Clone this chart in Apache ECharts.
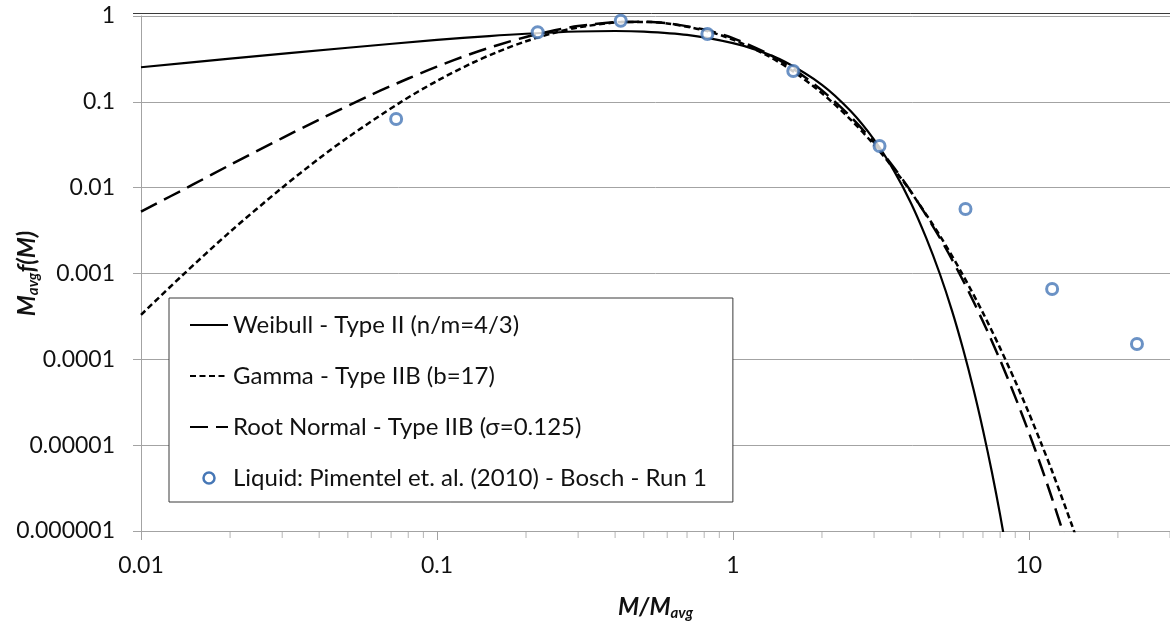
<!DOCTYPE html>
<html>
<head>
<meta charset="utf-8">
<script src="https://cdn.jsdelivr.net/npm/echarts@6/dist/echarts.min.js"></script>
<style>
html,body{margin:0;padding:0;background:#fff;}
#chart{width:1170px;height:625px;}
</style>
</head>
<body>
<div id="chart"></div>
<script>
// ---- data ----
const xTickLabels = ['0.01', '0.1', '1', '10'];
const yTickLabels = ['0.000001', '0.00001', '0.0001', '0.001', '0.01', '0.1', '1'];
const xMinorTicks = [0.02,0.03,0.04,0.05,0.06,0.07,0.08,0.09,
                     0.2,0.3,0.4,0.5,0.6,0.7,0.8,0.9,
                     2,3,4,5,6,7,8,9,20,30];

const seriesNames = [
  'Weibull - Type II (n/m=4/3)',
  'Gamma - Type IIB (b=17)',
  'Root Normal - Type IIB (σ=0.125)',
  'Liquid: Pimentel et. al. (2010) - Bosch - Run 1'
];

const weibullX = [0.01,0.02,0.05,0.1,0.15,0.2,0.3,0.4,0.5,0.7,1,1.2,1.5,2,2.5,3,3.5,4,4.5,5,5.5,6,6.5,7,7.5,8,8.5];
const weibullY = [0.253,0.318,0.427,0.526,0.584,0.621,0.660,0.669,0.658,0.602,0.484,0.403,0.293,0.158,0.078,0.0362,0.0158,0.0066,0.0026,0.00100,0.00037,0.000131,0.000045,0.000015,0.0000049,0.00000154,0.00000047];

const gammaX = [0.01,0.0137,0.02,0.03,0.04,0.05,0.075,0.1,0.13,0.16,0.2,0.25,0.3,0.4,0.5,0.6,0.8,1,1.3,1.6,2,2.5,3,3.5,4,5,6,7,8,9,10,11,12,14,15];
const gammaY = [0.00033,0.00093,0.00306,0.0100,0.0219,0.0385,0.098,0.175,0.278,0.381,0.508,0.639,0.736,0.839,0.854,0.819,0.681,0.531,0.350,0.226,0.126,0.0621,0.0316,0.0165,0.00887,0.00278,0.000947,0.000348,0.000135,0.0000555,0.0000238,0.0000106,0.00000493,0.00000116,0.00000058];

const rootX = [0.01,0.015,0.02,0.03,0.04,0.06,0.08,0.1,0.13,0.16,0.2,0.25,0.3,0.4,0.5,0.6,0.8,1,1.3,1.6,2,2.5,3,3.5,4,5,6,7,8,9,10,11,12,13,14];
const rootY = [0.00525,0.0109,0.0184,0.0378,0.062,0.121,0.187,0.257,0.361,0.457,0.570,0.682,0.763,0.848,0.858,0.823,0.695,0.552,0.370,0.242,0.136,0.0671,0.0336,0.0172,0.0090,0.00262,0.000824,0.000276,0.000098,0.0000363,0.0000141,0.00000568,0.00000236,0.00000101,0.00000045];

const liquidX = [0.0728,0.219,0.418,0.82,1.60,3.13,6.11,11.99,23.2];
const liquidY = [0.0631,0.646,0.882,0.617,0.229,0.0306,0.00564,0.00066,0.000151];

// ---- build chart ----
const zip = (xs, ys) => xs.map((x, i) => [x, ys[i]]);
const FONT = 'Lato';
const GRIDC = '#a3a3a3';
const BLUE = '#4677b6';
const X_MIN = 0.01, X_MAX = 30, Y_MIN = 0.000001, Y_MAX = 1;

function logLabel(labels, base) {
  return function (v) {
    const l = Math.log10(v);
    const e = Math.round(l);
    if (Math.abs(l - e) > 1e-6) return '';
    const idx = e - base;
    return labels[idx] !== undefined ? labels[idx] : '';
  };
}

const lineLegendItem = name => ({name: name, itemStyle: {opacity: 0}});
const titleRich = {
  m: {fontFamily: FONT, fontSize: 24, fontWeight: 'bold', fontStyle: 'italic', color: '#111', lineHeight: 28},
  s: {fontFamily: FONT, fontSize: 15, fontWeight: 'bold', fontStyle: 'italic', color: '#111', lineHeight: 14, verticalAlign: 'bottom'}
};

const chart = echarts.init(document.getElementById('chart'), null, {renderer: 'canvas'});
chart.setOption({
  animation: false,
  backgroundColor: '#fff',
  textStyle: {fontFamily: FONT},
  grid: {left: 141, right: 0, top: 16, bottom: 94, containLabel: false, outerBoundsMode: 'none'},
  legend: {
    data: [
      lineLegendItem(seriesNames[0]),
      lineLegendItem(seriesNames[1]),
      lineLegendItem(seriesNames[2]),
      {name: seriesNames[3], itemStyle: {color: '#fff', borderColor: BLUE, borderWidth: 2.5, opacity: 1}}
    ],
    orient: 'vertical',
    left: 169, top: 298,
    padding: [14, 26, 11, 20],
    itemWidth: 38, itemHeight: 11,
    itemGap: 25,
    backgroundColor: '#fff',
    borderColor: '#3a3a3a', borderWidth: 1,
    selectedMode: false,
    textStyle: {fontFamily: FONT, fontSize: 24, color: '#111', lineHeight: 26}
  },
  xAxis: {
    type: 'log', logBase: 10, min: X_MIN, max: X_MAX,
    name: '{m|M/M}{s|avg}',
    nameLocation: 'middle', nameGap: 62, nameMoveOverlap: false,
    nameTextStyle: {rich: titleRich},
    axisLine: {show: true, lineStyle: {color: GRIDC, width: 1}},
    axisTick: {show: true, length: 9, lineStyle: {color: GRIDC}},
    splitLine: {show: false},
    axisLabel: {fontFamily: FONT, fontSize: 23, color: '#111', margin: 23, formatter: logLabel(xTickLabels, -2)}
  },
  yAxis: {
    type: 'log', logBase: 10, min: Y_MIN, max: Y_MAX,
    name: '{m|M}{s|avg}{m|f(M)}',
    nameLocation: 'middle', nameRotate: 90, nameGap: 100, nameMoveOverlap: false,
    nameTextStyle: {rich: titleRich},
    axisLine: {show: true, lineStyle: {color: GRIDC, width: 1}},
    axisTick: {show: true, length: 8, lineStyle: {color: GRIDC}},
    splitLine: {show: true, lineStyle: {color: GRIDC, width: 1}},
    axisLabel: {fontFamily: FONT, fontSize: 23, color: '#111', margin: 26, formatter: logLabel(yTickLabels, -6)}
  },
  graphic: [{
    type: 'line', silent: true,
    shape: {x1: 133, y1: 13.5, x2: 1170, y2: 13.5},
    style: {stroke: '#3a3a3a', lineWidth: 1}
  }],
  series: [
    {
      name: seriesNames[0], type: 'line', data: zip(weibullX, weibullY),
      symbol: 'none', smooth: 0.3, clip: true,
      lineStyle: {color: '#000', width: 2.2, type: 'solid'}, itemStyle: {color: '#000'}, z: 3
    },
    {
      name: seriesNames[1], type: 'line', data: zip(gammaX, gammaY),
      symbol: 'none', smooth: 0.3, clip: true,
      lineStyle: {color: '#000', width: 2.5, type: [6, 3.5]}, itemStyle: {color: '#000'}, z: 3
    },
    {
      name: seriesNames[2], type: 'line', data: zip(rootX, rootY),
      symbol: 'none', smooth: 0.3, clip: true,
      lineStyle: {color: '#000', width: 2.5, type: [18, 8]}, itemStyle: {color: '#000'}, z: 3
    },
    {
      name: seriesNames[3], type: 'scatter', data: zip(liquidX, liquidY),
      symbol: 'circle', symbolSize: 11,
      itemStyle: {color: '#fff', borderColor: BLUE, borderWidth: 3}, z: 5
    },
    {
      name: 'minorTicks', type: 'scatter', silent: true, clip: false,
      data: xMinorTicks.map(v => [v, Y_MIN]),
      symbol: 'rect', symbolSize: [1, 7], symbolOffset: [0, 3.5],
      itemStyle: {color: GRIDC}, z: 1
    }
  ]
});
</script>
</body>
</html>
